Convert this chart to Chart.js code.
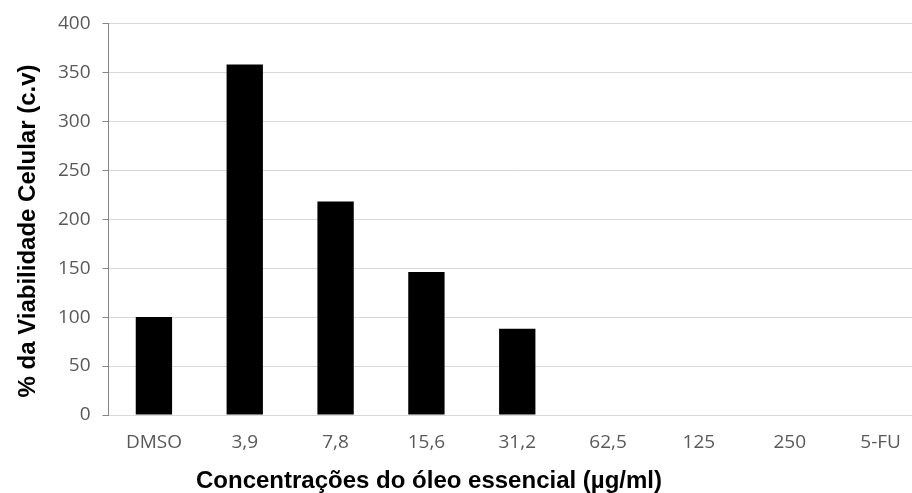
<!DOCTYPE html>
<html>
<head>
<meta charset="utf-8">
<script src="https://cdn.jsdelivr.net/npm/chart.js@4/dist/chart.umd.min.js"></script>
<style>
  html, body { margin: 0; padding: 0; background: #fff; overflow: hidden; }
  #wrap { width: 912px; height: 493px; overflow: hidden; }
</style>
</head>
<body>
<div id="wrap"><canvas id="chart" width="926" height="493"></canvas></div>
<script>
const kategorien = ["DMSO", "3,9", "7,8", "15,6", "31,2", "62,5", "125", "250", "5-FU"];
const viabilidade = [100, 358, 218, 146, 88, 0, 0, 0, 0];
const yTicks = [0, 50, 100, 150, 200, 250, 300, 350, 400];
const xTitel = "Concentrações do óleo essencial (µg/ml)";
const yTitel = "% da Viabilidade Celular (c.v)";

const tickFont = { family: "Open Sans", size: 19 };

// Achsentitel selbst zeichnen, damit sie wie im Original sitzen
const achsenTitel = {
    id: "achsenTitel",
    afterDraw(c) {
        const g = c.ctx;
        g.save();
        g.fillStyle = "#000000";
        g.font = "bold 24px 'Liberation Sans'";
        g.textAlign = "center";
        g.textBaseline = "alphabetic";
        g.fillText(xTitel, 429, 488);
        g.translate(35, 231);
        g.rotate(-Math.PI / 2);
        g.fillText(yTitel, 0, 0);
        g.restore();
    }
};

const ctx = document.getElementById("chart").getContext("2d");
const chart = new Chart(ctx, {
    type: "bar",
    data: {
        labels: kategorien,
        datasets: [{
            data: viabilidade,
            backgroundColor: "#000000",
            borderWidth: 0,
            barPercentage: 0.4,
            categoryPercentage: 1
        }]
    },
    options: {
        responsive: false,
        animation: false,
        layout: { padding: { top: 22, right: 0, left: 0, bottom: 0 } },
        plugins: { legend: { display: false }, tooltip: { enabled: false } },
        scales: {
            x: {
                grid: { display: false, drawTicks: false },
                border: { color: "#d9d9d9", width: 1 },
                ticks: { color: "#595959", font: tickFont, padding: 16, maxRotation: 0 },
                afterFit: s => { s.height = 78; }
            },
            y: {
                min: 0,
                max: 400,
                afterBuildTicks: s => { s.ticks = yTicks.map(v => ({ value: v })); },
                grid: { color: "#d9d9d9", tickColor: "#868686", tickLength: 6, lineWidth: 1 },
                border: { color: "#868686", width: 1 },
                ticks: { color: "#595959", font: tickFont, padding: 12 },
                afterFit: s => { s.width = 108.5; }
            }
        }
    },
    plugins: [achsenTitel]
});
</script>
</body>
</html>
